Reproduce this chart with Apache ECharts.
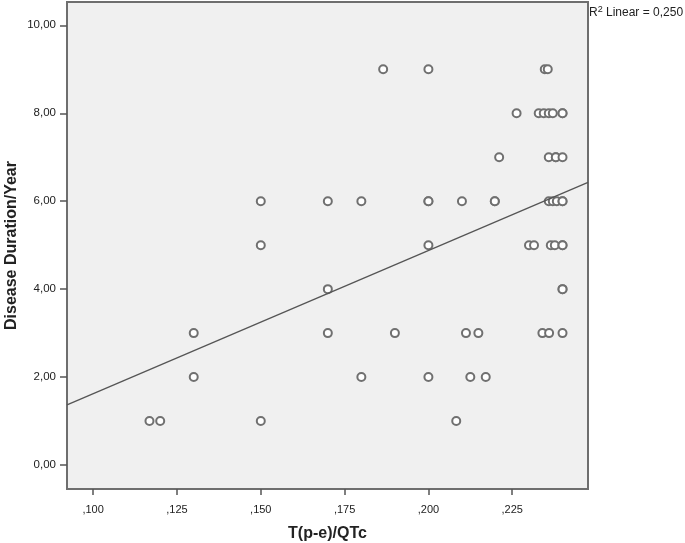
<!DOCTYPE html>
<html lang="en">
  <head>
    <meta charset="utf-8">
    <title>scatter</title>
    <script src="https://cdn.jsdelivr.net/npm/echarts@6/dist/echarts.min.js"></script>
    <style>
      html, body { margin: 0; padding: 0; background: #fff; }
      #chart { width: 685px; height: 543px; }
    </style>
    <script>
      // x = T(p-e)/QTc, y = disease duration in years (duplicates = overlapping circles)
      var xVals = [
        0.1865, 0.200, 0.2347, 0.2356,
        0.2263, 0.2329, 0.2344, 0.2359, 0.2371, 0.240, 0.240,
        0.2211, 0.2359, 0.238, 0.238, 0.240,
        0.150, 0.170, 0.180, 0.200, 0.200, 0.210, 0.2198, 0.2198, 0.2359, 0.2371, 0.2383, 0.240, 0.240,
        0.150, 0.200, 0.230, 0.2315, 0.2365, 0.2377, 0.240, 0.240,
        0.170, 0.240, 0.240,
        0.130, 0.170, 0.190, 0.2112, 0.2149, 0.234, 0.236, 0.240,
        0.130, 0.180, 0.200, 0.2125, 0.2171,
        0.1168, 0.120, 0.150, 0.2083
      ];
      var yVals = [
        9, 9, 9, 9,
        8, 8, 8, 8, 8, 8, 8,
        7, 7, 7, 7, 7,
        6, 6, 6, 6, 6, 6, 6, 6, 6, 6, 6, 6, 6,
        5, 5, 5, 5, 5, 5, 5, 5,
        4, 4, 4,
        3, 3, 3, 3, 3, 3, 3, 3,
        2, 2, 2, 2, 2,
        1, 1, 1, 1
      ];
      // fit line at the plot edges
      var fitX = [0.0922, 0.2476];
      var fitY = [1.37, 6.43];
      var xTicks = [0.100, 0.125, 0.150, 0.175, 0.200, 0.225];
      var yTicks = [0, 2, 4, 6, 8, 10];

      function ini_chart(){
        var pts = [];
        for (var i = 0; i < xVals.length; i++){
          pts.push([xVals[i], yVals[i]]);
        }
        var line = [[fitX[0], fitY[0]], [fitX[1], fitY[1]]];

        var myChart = echarts.init(document.getElementById('chart'));
        myChart.setOption({
          animation: false,
          grid: {
            left: 67, top: 2, right: 97, bottom: 54,
            outerBoundsMode: 'none', containLabel: false,
            show: true, backgroundColor: '#f0f0f0',
            borderColor: '#6e6e6e', borderWidth: 2
          },
          xAxis: {
            type: 'value', min: 0.0922, max: 0.2476,
            name: 'T(p-e)/QTc', nameLocation: 'middle', nameGap: 37, nameMoveOverlap: false,
            nameTextStyle: { fontFamily: 'Liberation Sans', fontWeight: 'bold', fontSize: 16, color: '#222' },
            axisLine: { show: false, onZero: false },
            splitLine: { show: false },
            axisTick: { show: true, inside: false, length: 6, customValues: xTicks,
                        lineStyle: { color: '#555', width: 1.5 } },
            axisLabel: {
              customValues: xTicks, margin: 15,
              fontFamily: 'Liberation Sans', fontSize: 11, color: '#222',
              formatter: function(v){ return v.toFixed(3).replace('0.', ','); }
            }
          },
          yAxis: {
            type: 'value', min: -0.545, max: 10.53,
            name: 'Disease Duration/Year', nameLocation: 'middle', nameGap: 47, nameMoveOverlap: false,
            nameTextStyle: { fontFamily: 'Liberation Sans', fontWeight: 'bold', fontSize: 16, color: '#222' },
            axisLine: { show: false, onZero: false },
            splitLine: { show: false },
            axisTick: { show: true, inside: false, length: 7, customValues: yTicks,
                        lineStyle: { color: '#555', width: 1.5 } },
            axisLabel: {
              customValues: yTicks, margin: 11,
              fontFamily: 'Liberation Sans', fontSize: 11.5, color: '#222',
              formatter: function(v){ return v.toFixed(2).replace('.', ','); }
            }
          },
          graphic: [{
            type: 'text', left: 589, top: 5,
            style: {
              text: '{s|R}{sup|2}{s| Linear = 0,250}',
              rich: {
                s: { fontFamily: 'Liberation Sans', fontSize: 12, fill: '#222', verticalAlign: 'bottom' },
                sup: { fontFamily: 'Liberation Sans', fontSize: 9, fill: '#222', verticalAlign: 'top', padding: [0, 0, 5, 0] }
              }
            }
          }],
          series: [{
            type: 'line', data: line, symbol: 'none', silent: true,
            lineStyle: { color: '#555', width: 1.3 }
          }, {
            type: 'scatter', data: pts, symbol: 'emptyCircle', symbolSize: 8,
            itemStyle: { color: '#707070', borderColor: '#707070', borderWidth: 1.2, opacity: 1 }
          }]
        });
      }

      window.onload = ini_chart;
    </script>
  </head>
  <body>
    <div id="chart"></div>
  </body>
</html>
